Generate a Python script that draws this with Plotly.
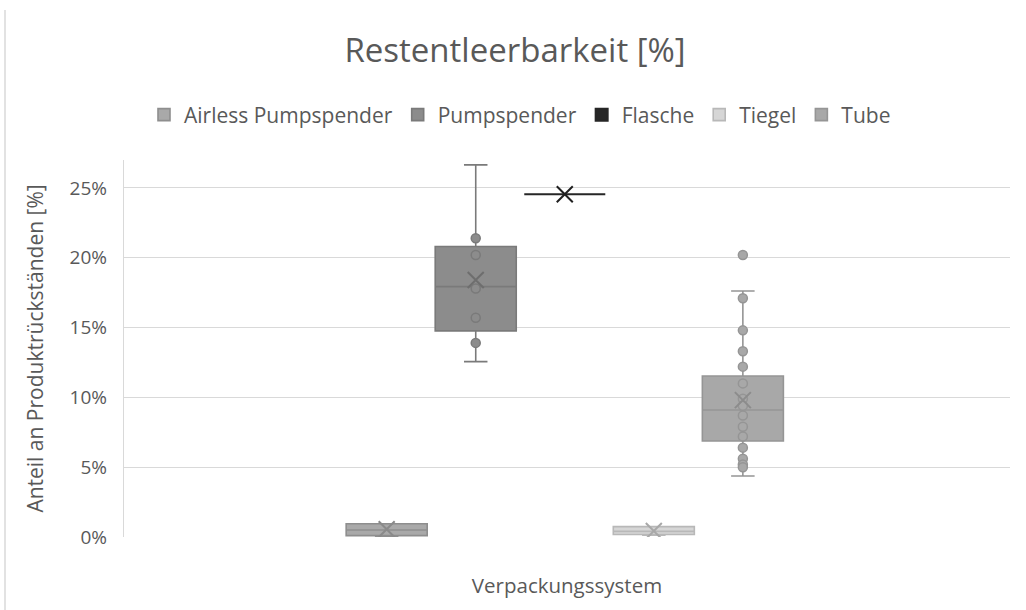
import plotly.graph_objects as go

# Packaging systems and their summary statistics (fractions of product left over)
systems = ["Airless Pumpspender", "Pumpspender", "Flasche", "Tiegel", "Tube"]
q1 = [0.0010, 0.1476, 0.2455, 0.0018, 0.0688]
median = [0.0050, 0.1793, 0.2455, 0.0040, 0.0910]
q3 = [0.0095, 0.2080, 0.2455, 0.0074, 0.1153]
lower_whisker = [0.0000, 0.1256, 0.2455, 0.0012, 0.0437]
upper_whisker = [0.0095, 0.2665, 0.2455, 0.0074, 0.1762]
mean = [0.0055, 0.1840, 0.2455, 0.0043, 0.0980]

# Individual measurements shown as dots
points_pumpspender = [0.214, 0.202, 0.178, 0.157, 0.139]
points_tube = [0.202, 0.171, 0.148, 0.133, 0.122, 0.110, 0.099, 0.094,
               0.087, 0.079, 0.072, 0.064, 0.056, 0.052, 0.050]
points = [[], points_pumpspender, [], [], points_tube]

fill_colors = ["#A9A9A9", "#8C8C8C", "#262626", "#D6D6D6", "#A8A8A8"]
line_colors = ["#8E8E8E", "#7A7A7A", "#262626", "#B8B8B8", "#959595"]
mean_colors = ["#8A8A8A", "#6E6E6E", "#1F1F1F", "#A8A8A8", "#8C8C8C"]

TEXT = "#595959"
GRID = "#D9D9D9"
FONT = "Open Sans"

fig = go.Figure()

for i, name in enumerate(systems):
    fig.add_trace(go.Box(
        x=[i], q1=[q1[i]], median=[median[i]], q3=[q3[i]],
        lowerfence=[lower_whisker[i]], upperfence=[upper_whisker[i]],
        name=name, width=0.91, whiskerwidth=0.29,
        fillcolor=fill_colors[i],
        line=dict(color=line_colors[i], width=1.6 if i != 2 else 2),
        boxpoints=False, showlegend=True,
    ))

for i, name in enumerate(systems):
    if points[i]:
        fig.add_trace(go.Scatter(
            x=[i] * len(points[i]), y=points[i], mode="markers",
            marker=dict(symbol="circle", size=9, color=fill_colors[i],
                        line=dict(color=line_colors[i], width=1.5)),
            showlegend=False, hoverinfo="y",
        ))
    fig.add_trace(go.Scatter(
        x=[i], y=[mean[i]], mode="markers",
        marker=dict(symbol="x-thin", size=16,
                    line=dict(color=mean_colors[i], width=2)),
        showlegend=False, hoverinfo="y",
    ))

fig.update_layout(
    width=1026, height=610,
    margin=dict(l=124, r=16, t=160, b=73),
    paper_bgcolor="white", plot_bgcolor="white",
    font=dict(family=FONT, color=TEXT, size=18),
    title=dict(text="Restentleerbarkeit [%]", font=dict(size=33, color=TEXT),
               x=515 / 1026, xref="container", xanchor="center",
               y=1 - 50 / 610, yref="container", yanchor="middle"),
    legend=dict(orientation="h", xref="container", yref="container",
                x=520 / 1026, xanchor="center",
                y=1 - 115 / 610, yanchor="middle",
                font=dict(size=21, color=TEXT), itemwidth=30,
                traceorder="normal"),
    showlegend=True,
    boxmode="overlay",
    xaxis=dict(range=[-2.95, 7.0], showticklabels=False, showgrid=False,
               zeroline=False, showline=False, ticks="",
               title=dict(text="Verpackungssystem", font=dict(size=20.5, color=TEXT),
                          standoff=41)),
    yaxis=dict(range=[0, 0.27], tickvals=[0, 0.05, 0.10, 0.15, 0.20, 0.25],
               tickformat=".0%", showgrid=True, gridcolor=GRID, gridwidth=1.3,
               zeroline=False, showline=True, linecolor=GRID, linewidth=1.3,
               ticks="", ticklabelstandoff=12,
               tickfont=dict(size=19, color=TEXT),
               title=dict(text="Anteil an Produktrückständen [%]",
                          font=dict(size=21, color=TEXT), standoff=20)),
    shapes=[dict(type="line", xref="paper", yref="paper",
                 x0=(5 - 124) / 886, x1=(5 - 124) / 886,
                 y0=(537 - 10) / 377, y1=(537 - 612) / 377,
                 line=dict(color=GRID, width=1.5))],
)

fig.write_html("out.html")
